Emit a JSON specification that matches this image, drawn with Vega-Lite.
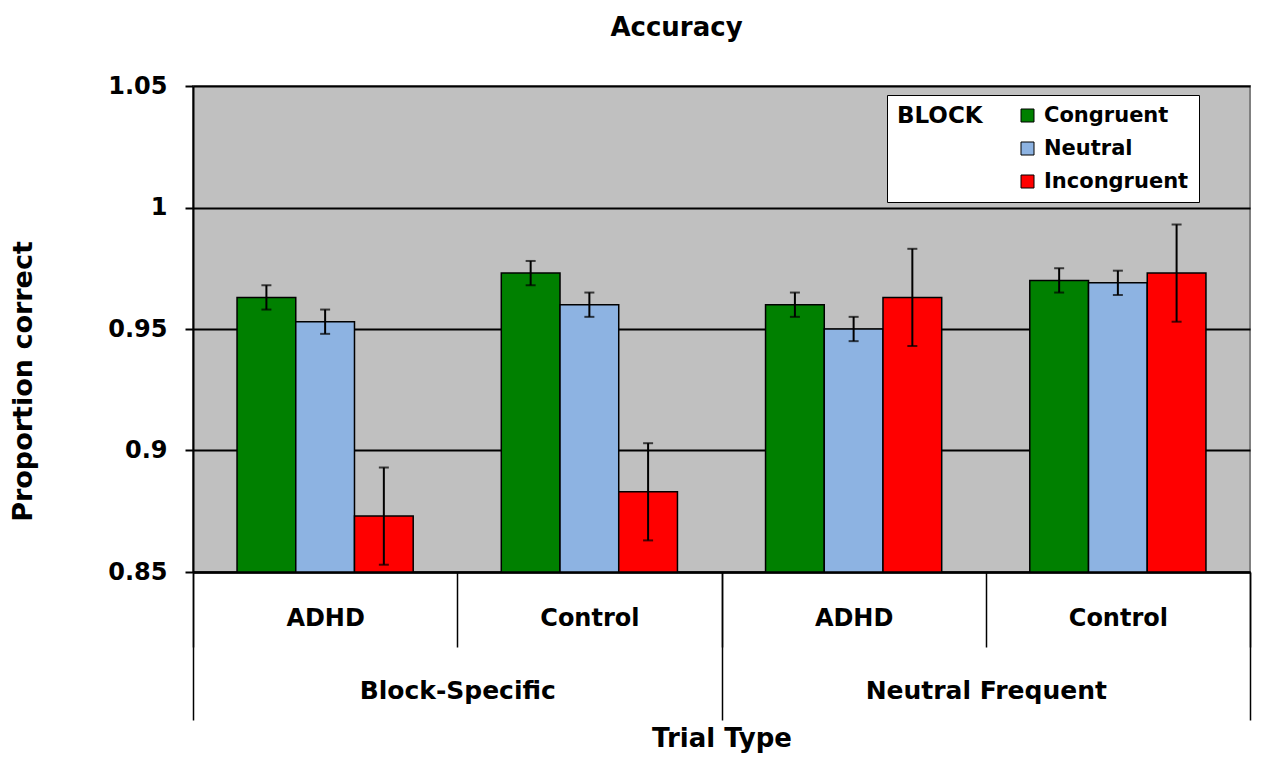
{
  "$schema": "https://vega.github.io/schema/vega-lite/v6.json",
  "width": 1057,
  "height": 486,
  "autosize": "none",
  "padding": {"left": 193, "top": 86, "right": 11, "bottom": 186},
  "background": "white",
  "title": {"text": "Accuracy", "fontSize": 26, "font": "DejaVu Sans", "fontWeight": "bold", "offset": 33, "dx": -45, "color": "black"},
  "config": {
    "view": {"fill": "#c0c0c0", "stroke": "#808080", "strokeWidth": 2},
    "font": "DejaVu Sans"
  },
  "datasets": {
    "acc": [
      {"block": "Block-Specific", "cell": "Block-Specific|ADHD", "cond": "Congruent", "mean": 0.963, "lo": 0.958, "hi": 0.968},
      {"block": "Block-Specific", "cell": "Block-Specific|ADHD", "cond": "Neutral", "mean": 0.953, "lo": 0.948, "hi": 0.958},
      {"block": "Block-Specific", "cell": "Block-Specific|ADHD", "cond": "Incongruent", "mean": 0.873, "lo": 0.853, "hi": 0.893},
      {"block": "Block-Specific", "cell": "Block-Specific|Control", "cond": "Congruent", "mean": 0.973, "lo": 0.968, "hi": 0.978},
      {"block": "Block-Specific", "cell": "Block-Specific|Control", "cond": "Neutral", "mean": 0.960, "lo": 0.955, "hi": 0.965},
      {"block": "Block-Specific", "cell": "Block-Specific|Control", "cond": "Incongruent", "mean": 0.883, "lo": 0.863, "hi": 0.903},
      {"block": "Neutral Frequent", "cell": "Neutral Frequent|ADHD", "cond": "Congruent", "mean": 0.960, "lo": 0.955, "hi": 0.965},
      {"block": "Neutral Frequent", "cell": "Neutral Frequent|ADHD", "cond": "Neutral", "mean": 0.950, "lo": 0.945, "hi": 0.955},
      {"block": "Neutral Frequent", "cell": "Neutral Frequent|ADHD", "cond": "Incongruent", "mean": 0.963, "lo": 0.943, "hi": 0.983},
      {"block": "Neutral Frequent", "cell": "Neutral Frequent|Control", "cond": "Congruent", "mean": 0.970, "lo": 0.965, "hi": 0.975},
      {"block": "Neutral Frequent", "cell": "Neutral Frequent|Control", "cond": "Neutral", "mean": 0.969, "lo": 0.964, "hi": 0.974},
      {"block": "Neutral Frequent", "cell": "Neutral Frequent|Control", "cond": "Incongruent", "mean": 0.973, "lo": 0.953, "hi": 0.993}
    ]
  },
  "layer": [
    {
      "data": {"name": "acc"},
      "encoding": {
        "x": {
          "field": "cell", "type": "nominal",
          "scale": {"domain": ["Block-Specific|ADHD", "Block-Specific|Control", "Neutral Frequent|ADHD", "Neutral Frequent|Control"], "paddingInner": 0, "paddingOuter": 0},
          "axis": {
            "title": null, "labelExpr": "split(datum.label, '|')[1]", "labelAngle": 0,
            "tickBand": "extent", "tickSize": 75, "tickColor": "black", "tickWidth": 1.5,
            "domainColor": "black", "domainWidth": 2, "grid": false,
            "labelFontSize": 24, "labelFontWeight": "bold", "labelColor": "black", "labelPadding": -41, "labelLimit": 400
          }
        },
        "xOffset": {"field": "cond", "type": "nominal", "scale": {"domain": ["Congruent", "Neutral", "Incongruent"], "paddingInner": 0, "paddingOuter": 0.75}}
      },
      "layer": [
        {
          "mark": {"type": "bar", "stroke": "black", "strokeWidth": 1.5},
          "encoding": {
            "y": {
              "field": "mean", "type": "quantitative", "title": "Proportion correct",
              "scale": {"domain": [0.85, 1.05], "nice": false, "zero": false},
              "axis": {
                "values": [0.85, 0.9, 0.95, 1, 1.05], "format": "~g",
                "grid": true, "gridColor": "black", "gridWidth": 2,
                "domainColor": "black", "domainWidth": 2,
                "tickColor": "black", "tickWidth": 2, "tickSize": 8,
                "labelFontSize": 24, "labelFontWeight": "bold", "labelColor": "black", "labelPadding": 18,
                "titleFontSize": 27, "titleFontWeight": "bold", "titleColor": "black", "titlePadding": 70, "titleY": 295
              }
            },
            "y2": {"datum": 0.85},
            "color": {
              "field": "cond", "type": "nominal",
              "scale": {"domain": ["Congruent", "Neutral", "Incongruent"], "range": ["#008000", "#8db3e2", "#ff0000"]},
              "legend": {
                "title": "BLOCK", "titleOrient": "left", "titleAnchor": "start", "titleFontSize": 23, "titleFontWeight": "bold", "titleColor": "black", "titlePadding": 34,
                "orient": "none", "legendX": 694, "legendY": 9,
                "fillColor": "white", "strokeColor": "black", "padding": 10,
                "labelFontSize": 21, "labelFontWeight": "bold", "labelColor": "black", "labelOffset": 6,
                "symbolType": "square", "symbolSize": 169, "symbolStrokeColor": "black", "symbolStrokeWidth": 1, "symbolOpacity": 1,
                "rowPadding": 11
              }
            }
          }
        },
        {
          "mark": {"type": "rule", "color": "black", "strokeWidth": 2},
          "encoding": {
            "y": {"field": "lo", "type": "quantitative", "title": "Proportion correct"},
            "y2": {"field": "hi"}
          }
        },
        {
          "mark": {"type": "tick", "color": "black", "thickness": 2, "size": 10},
          "encoding": {"y": {"field": "lo", "type": "quantitative", "title": "Proportion correct"}}
        },
        {
          "mark": {"type": "tick", "color": "black", "thickness": 2, "size": 10},
          "encoding": {"y": {"field": "hi", "type": "quantitative", "title": "Proportion correct"}}
        }
      ]
    },
    {
      "data": {"name": "acc"},
      "mark": {"type": "rule", "opacity": 0},
      "encoding": {
        "x": {
          "field": "block", "type": "nominal",
          "scale": {"domain": ["Block-Specific", "Neutral Frequent"], "paddingInner": 0, "paddingOuter": 0},
          "axis": {
            "orient": "bottom", "title": "Trial Type", "labelAngle": 0,
            "tickBand": "extent", "tickSize": 148, "tickColor": "black", "tickWidth": 1.5,
            "domainColor": "black", "domainWidth": 2, "grid": false,
            "labelFontSize": 25, "labelFontWeight": "bold", "labelColor": "black", "labelPadding": -42, "labelLimit": 400,
            "titleFontSize": 26, "titleFontWeight": "bold", "titleColor": "black", "titlePadding": 5
          }
        }
      }
    }
  ],
  "resolve": {"scale": {"x": "independent"}, "axis": {"x": "independent"}}
}
